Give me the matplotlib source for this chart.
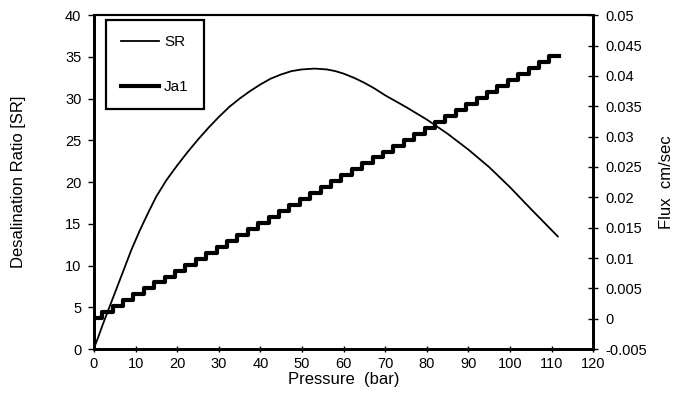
import matplotlib
matplotlib.use("Agg")
import matplotlib.pyplot as plt
from matplotlib.ticker import FixedLocator, FixedFormatter

plt.rcParams['font.family'] = ['Liberation Sans', 'DejaVu Sans']

# SR curve (left axis)
sr_x = [0.3, 1, 2, 3, 4, 5, 7, 9, 11, 13, 15, 17.5, 20, 22.5, 25, 27.5, 30, 32.5,
        35, 37.5, 40, 42.5, 45, 47.5, 50, 53, 56, 58, 60, 62.5, 65, 67.5, 70,
        75, 80, 85, 90, 95, 100, 105, 111.5]
sr_y = [0.5, 1.4, 2.8, 4.1, 5.4, 6.7, 9.3, 11.9, 14.2, 16.3, 18.3, 20.3, 22.0,
        23.6, 25.1, 26.5, 27.8, 29.0, 30.0, 30.9, 31.7, 32.4, 32.9, 33.3, 33.5,
        33.6, 33.5, 33.3, 33.0, 32.5, 31.9, 31.2, 30.4, 29.0, 27.5, 25.8, 23.9,
        21.8, 19.4, 16.8, 13.5]

# Ja1 flux (right axis), staircase levels
ja_x = [0, 2, 4.5, 7, 9.5, 12, 14.5, 17, 19.5, 22, 24.5, 27, 29.5, 32, 34.5, 37,
        39.5, 42, 44.5, 47, 49.5, 52, 54.5, 57, 59.5, 62, 64.5, 67, 69.5, 72, 74.5,
        77, 79.5, 82, 84.5, 87, 89.5, 92, 94.5, 97, 99.5, 102, 104.5, 107, 109.5, 111.7]
ja_y = [0.00010, 0.00108, 0.00206, 0.00304, 0.00402, 0.00500, 0.00598, 0.00696,
        0.00794, 0.00892, 0.00990, 0.01088, 0.01186, 0.01284, 0.01382, 0.01480,
        0.01578, 0.01676, 0.01774, 0.01872, 0.01970, 0.02068, 0.02166, 0.02264,
        0.02362, 0.02460, 0.02558, 0.02656, 0.02754, 0.02852, 0.02950, 0.03048,
        0.03146, 0.03244, 0.03342, 0.03440, 0.03538, 0.03636, 0.03734, 0.03832,
        0.03930, 0.04028, 0.04126, 0.04224, 0.04322, 0.04322]

x_ticks = [0, 10, 20, 30, 40, 50, 60, 70, 80, 90, 100, 110, 120]
left_ticks = [0, 5, 10, 15, 20, 25, 30, 35, 40]
right_ticks = [-0.005, 0, 0.005, 0.01, 0.015, 0.02, 0.025, 0.03, 0.035, 0.04, 0.045, 0.05]
right_labels = ['-0.005', '0', '0.005', '0.01', '0.015', '0.02', '0.025', '0.03',
                '0.035', '0.04', '0.045', '0.05']

fig = plt.figure(figsize=(6.81, 3.99), dpi=100)
ax = fig.add_axes([0.138, 0.125, 0.733, 0.837])
ax2 = ax.twinx()

l1, = ax.plot(sr_x, sr_y, color='black', lw=1.3, label='SR')
l2, = ax2.step(ja_x, ja_y, where='post', color='black', lw=3.0, label='Ja1',
               solid_joinstyle='round')

ax.set_xlim(0, 120)
ax.set_ylim(0, 40)
ax2.set_ylim(-0.005, 0.05)

ax.xaxis.set_major_locator(FixedLocator(x_ticks))
ax.yaxis.set_major_locator(FixedLocator(left_ticks))
ax2.yaxis.set_major_locator(FixedLocator(right_ticks))
ax2.yaxis.set_major_formatter(FixedFormatter(right_labels))

for a in (ax, ax2):
    a.spines['left'].set_linewidth(2.0)
    a.spines['bottom'].set_linewidth(2.0)
    a.spines['right'].set_linewidth(2.0)
    a.spines['top'].set_linewidth(1.5)

ax.tick_params(axis='x', direction='inout', length=5, width=1, labelsize=10.5, pad=3)
ax.tick_params(axis='y', direction='out', length=4, width=1, labelsize=10.5, pad=5)
ax2.tick_params(axis='y', direction='inout', length=7, width=1, labelsize=10.5, pad=5)

ax.set_xlabel('Pressure  (bar)', fontsize=12, labelpad=1)
ax.set_ylabel('Desalination Ratio [SR]', fontsize=12, labelpad=28)
ax2.set_ylabel('Flux  cm/sec', fontsize=12, labelpad=9)

leg = ax2.legend(handles=[l1, l2], loc='upper left', bbox_to_anchor=(0.024, 0.985),
                 fontsize=11, labelspacing=2.0, handlelength=2.5, borderpad=1.0,
                 borderaxespad=0, fancybox=False, edgecolor='black', framealpha=1,
                 handletextpad=0.3)
leg.get_frame().set_linewidth(1.6)

fig.savefig('out.png', dpi=100)
